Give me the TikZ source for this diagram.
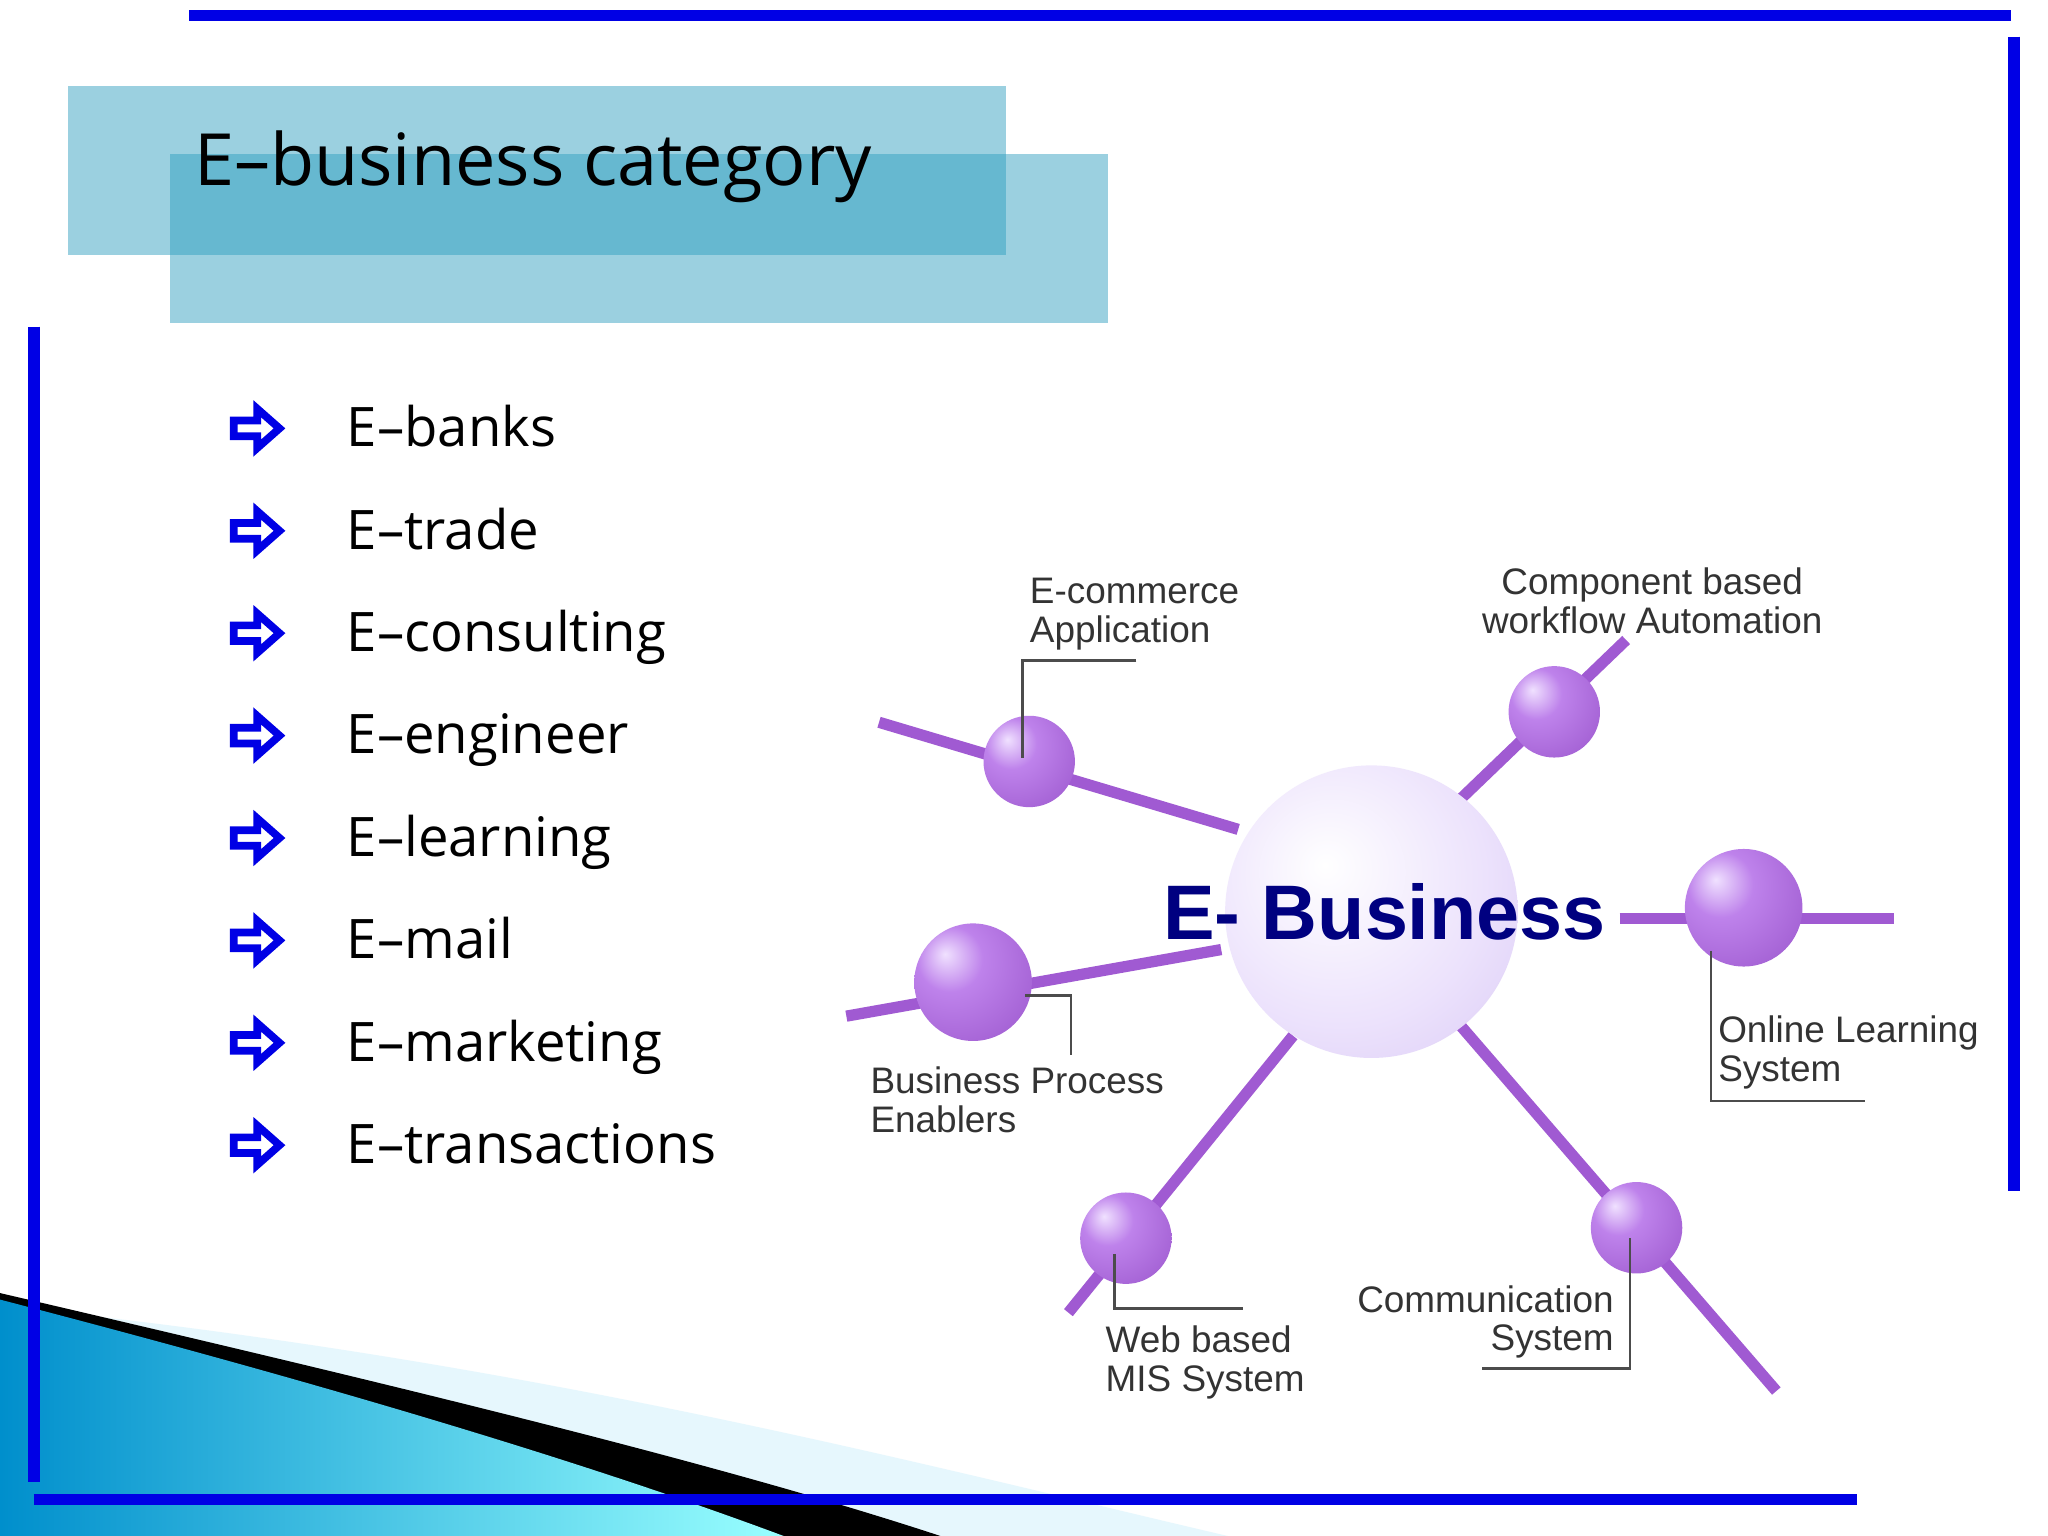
\documentclass[tikz,border=0pt]{standalone}
\usepackage{fontspec}
\setmainfont{Open Sans}
\newfontfamily\arialf{Liberation Sans}
\definecolor{tboxc}{RGB}{155,208,224}
\definecolor{tboxd}{RGB}{102,184,208}
\definecolor{ballhi}{RGB}{240,225,255}
\definecolor{ballc}{RGB}{190,130,235}
\definecolor{balle}{RGB}{150,80,200}
\definecolor{corehi}{RGB}{255,255,255}
\definecolor{corec}{RGB}{236,226,252}
\definecolor{coree}{RGB}{205,185,240}
\definecolor{spokec}{RGB}{160,90,210}
\pgfdeclareradialshading{smallball}{\pgfpoint{-12bp}{12bp}}{color(0bp)=(ballhi); color(14bp)=(ballc); color(48bp)=(balle); color(80bp)=(balle)}
\pgfdeclareradialshading{coreball}{\pgfpoint{-8bp}{8bp}}{color(0bp)=(corehi); color(25bp)=(corec); color(55bp)=(coree); color(80bp)=(coree)}
\begin{document}
\begin{tikzpicture}[x=0.01306cm,y=-0.01306cm,
  frame/.style={draw=blue!90!black,line width=3.2pt},
  item/.style={anchor=base west,font=\fontsize{15.5}{18}\selectfont,inner sep=0},
  lbl/.style={font=\arialf\fontsize{10.5}{11}\selectfont,text=black!80,inner sep=0,align=left},
  spoke/.style={draw=spokec,line width=3.2pt},
  lead/.style={draw=black!70,line width=0.8pt},
  ball/.style={circle,shading=smallball,inner sep=0},
  arr/.style={draw=blue!90!black,line width=2.2pt,line join=miter}]
\useasboundingbox (0,0) rectangle (1568,1176);
\fill[white] (0,0) rectangle (1568,1176);
% swoosh
\fill[cyan!10!white] (0,1000) .. controls (400,1040) and (700,1120) .. (940,1176) -- (0,1176) -- cycle;
\fill[black] (0,990) .. controls (300,1060) and (550,1120) .. (720,1176) -- (0,1176) -- cycle;
\shade[left color=cyan!70!blue!80!black,right color=cyan!40] (0,995) .. controls (250,1060) and (450,1120) .. (600,1176) -- (0,1176) -- cycle;
% frame lines
\draw[frame] (145,12) coordinate (t1) -- (1540,12) coordinate (t2);
\draw[frame] (1542,28) coordinate (r1) -- (1542,912) coordinate (r2);
\draw[frame] (26,250) coordinate (l1) -- (26,1135) coordinate (l2);
\draw[frame] (26,1148) coordinate (b1) -- (1422,1148) coordinate (b2);
% title
\fill[tboxc] (52,66) rectangle (770,195);
\fill[tboxc] (130,118) rectangle (848,247);
\fill[tboxd] (130,118) rectangle (770,195);
\node[anchor=west,inner sep=0,font=\fontsize{20.5}{24}\selectfont] (title) at (148,128) {E–business category};
% list
\foreach \t [count=\i] in {E–banks,E–trade,E–consulting,E–engineer,E–learning,E–mail,E–marketing,E–transactions}{
  \pgfmathsetmacro\yy{328+78.4*(\i-1)}
  \draw[arr] (179,\yy-6) -- (197,\yy-6) -- (197,\yy-15) -- (214,\yy) -- (197,\yy+15) -- (197,\yy+6) -- (179,\yy+6) -- cycle;
  \node[item] (it\i) at (265,\yy+14) {\t};
}
% spokes
\coordinate (s1a) at (673,553); \coordinate (s1b) at (948,635);
\coordinate (s2a) at (1118,612); \coordinate (s2b) at (1245,490);
\coordinate (s3a) at (1240,703); \coordinate (s3b) at (1450,703);
\coordinate (s4a) at (648,778); \coordinate (s4b) at (935,727);
\coordinate (s5a) at (990,793); \coordinate (s5b) at (818,1005);
\coordinate (s6a) at (1118,785); \coordinate (s6b) at (1360,1065);
\foreach \s in {1,...,6}{\draw[spoke] (s\s a) -- (s\s b);}
\node[circle,inner sep=0,shading=coreball,minimum size=224*0.01306cm] (core) at (1050,698) {};
\node[font=\arialf\bfseries\fontsize{22}{24}\selectfont,text=blue!50!black,inner sep=0] (eb) at (1060,698) {E- Business};
\node[ball,minimum size=70*0.01306cm] (b1) at (788,583) {};
\node[ball,minimum size=70*0.01306cm] (b2) at (1190,545) {};
\node[ball,minimum size=90*0.01306cm] (b3) at (1335,695) {};
\node[ball,minimum size=90*0.01306cm] (b4) at (745,752) {};
\node[ball,minimum size=70*0.01306cm] (b5) at (862,948) {};
\node[ball,minimum size=70*0.01306cm] (b6) at (1253,940) {};
% labels
\node[lbl,anchor=west] (L1) at (788,470) {E-commerce\\Application};
\node[lbl,align=center] (L2) at (1265,460) {Component based\\workflow Automation};
\node[lbl,anchor=west] (L3) at (1315,806) {Online Learning\\System};
\node[lbl,anchor=west] (L4) at (666,842) {Business Process\\Enablers};
\node[lbl,anchor=west] (L5) at (846,1043) {Web based\\MIS System};
\node[lbl,anchor=east,align=right] (L6) at (1236,1012) {Communication\\System};
\draw[lead] (870,506) -- (783,506) -- (783,580);
\draw[lead] (1310,728) -- (1310,843) -- (1428,843);
\draw[lead] (785,762) -- (820,762) -- (820,808);
\draw[lead] (853,960) -- (853,1002) -- (952,1002);
\draw[lead] (1248,948) -- (1248,1048) -- (1135,1048);
\end{tikzpicture}
\end{document}
